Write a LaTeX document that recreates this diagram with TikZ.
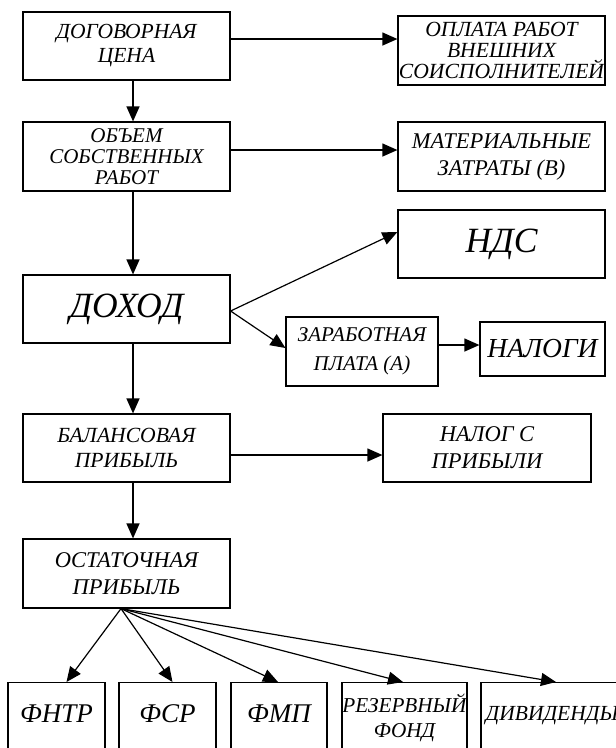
\documentclass[tikz,border=0pt]{standalone}
\usepackage{fontspec}
\setmainfont{Liberation Serif}
\usetikzlibrary{arrows.meta}

\begin{document}
\begin{tikzpicture}[x=1pt, y=-1pt,
		box/.style={draw, line width=1.2pt, inner sep=0pt, align=center, minimum height=68pt, font=\itshape\fontsize{22}{24}\selectfont},
		wide/.style={box, minimum width=207pt},
		big/.style={font=\itshape\fontsize{35.5}{38}\selectfont},
		fund/.style={box, anchor=north, minimum height=0pt, text height=40pt, text depth=40pt, font=\itshape\fontsize{27}{30}\selectfont},
		arr/.style={line width=1.2pt, -{Triangle[length=15pt, width=13pt]}}]
	\useasboundingbox (0,0) rectangle (616,748);
	\clip (0,0) rectangle (616,748);
	\node[wide, font=\itshape\fontsize{21.5}{24}\selectfont] (dogovor) at (126.5,46) {ДОГОВОРНАЯ\\ЦЕНА};
	\node[wide, minimum height=69pt, font=\itshape\fontsize{21.6}{21}\selectfont] (oplata) at (501.5,50.5) {ОПЛАТА РАБОТ\\ВНЕШНИХ\\СОИСПОЛНИТЕЛЕЙ};
	\node[wide, minimum height=69pt, font=\itshape\fontsize{21}{21}\selectfont] (obem) at (126.5,156.5) {ОБЪЕМ\\СОБСТВЕННЫХ\\РАБОТ};
	\node[wide, minimum height=69pt, font=\itshape\fontsize{22.5}{27}\selectfont] (mater) at (501.5,156.5) {МАТЕРИАЛЬНЫЕ\\ЗАТРАТЫ (В)};
	\node[wide, big] (nds) at (501.5,244) {НДС};
	\node[wide, big] (dohod) at (126.5,309) {ДОХОД};
	\node[box, minimum width=152pt, minimum height=69pt, font=\itshape\fontsize{21}{29}\selectfont] (zarpl) at (362,351.5) {ЗАРАБОТНАЯ\\ПЛАТА (А)};
	\node[box, minimum width=125pt, minimum height=54pt, font=\itshape\fontsize{27.5}{30}\selectfont] (nalogi) at (542.5,349) {НАЛОГИ};
	\node[wide, font=\itshape\fontsize{21.6}{25}\selectfont] (balans) at (126.5,448) {БАЛАНСОВАЯ\\ПРИБЫЛЬ};
	\node[box, minimum width=208pt, font=\itshape\fontsize{22.5}{27}\selectfont] (nalprib) at (487,448) {НАЛОГ С\\ПРИБЫЛИ};
	\node[wide, minimum height=69pt, font=\itshape\fontsize{22.5}{27}\selectfont] (ostat) at (126.5,573.5) {ОСТАТОЧНАЯ\\ПРИБЫЛЬ};
	\node[fund, minimum width=97pt] (fntr) at (56.5,682) {ФНТР};
	\node[fund, minimum width=97pt] (fsr) at (167.5,682) {ФСР};
	\node[fund, minimum width=96pt] (fmp) at (279,682) {ФМП};
	\node[fund, minimum width=125pt, text height=55pt, text depth=25pt, font=\itshape\fontsize{21.2}{25}\selectfont] (rezerv) at (404.5,682) {РЕЗЕРВНЫЙ\\ФОНД};
	\node[fund, minimum width=142pt, text height=38pt, font=\itshape\fontsize{21.5}{24}\selectfont] (divid) at (552,682) {ДИВИДЕНДЫ};
	\draw[arr] ([yshift=7]dogovor.east) -- ([yshift=7]dogovor.east -| oplata.west);
	\draw[arr] ([xshift=6.5]dogovor.south) -- ([xshift=6.5]dogovor.south |- obem.north);
	\draw[arr] ([yshift=6.5]obem.east) -- ([yshift=6.5]obem.east -| mater.west);
	\draw[arr] ([xshift=6.5]obem.south) -- ([xshift=6.5]obem.south |- dohod.north);
	\draw[arr] ([yshift=-2]dohod.east) -- ([yshift=12]nds.west);
	\draw[arr] ([yshift=-2]dohod.east) -- ([yshift=3.5]zarpl.west);
	\draw[arr] ([yshift=6.5]zarpl.east) -- ([yshift=6.5]zarpl.east -| nalogi.west);
	\draw[arr] ([xshift=6.5]dohod.south) -- ([xshift=6.5]dohod.south |- balans.north);
	\draw[arr] ([yshift=-7]balans.east) -- ([yshift=-7]balans.east -| nalprib.west);
	\draw[arr] ([xshift=6.5]balans.south) -- ([xshift=6.5]balans.south |- ostat.north);
	\coordinate (fan) at ([xshift=-5.5]ostat.south);
	\foreach \f/\dx in {fntr/10, fsr/5, fmp/-1, rezerv/-1.5, divid/4}
		\draw[arr] (fan) -- ([xshift=\dx]\f.north);
\end{tikzpicture}
\end{document}
